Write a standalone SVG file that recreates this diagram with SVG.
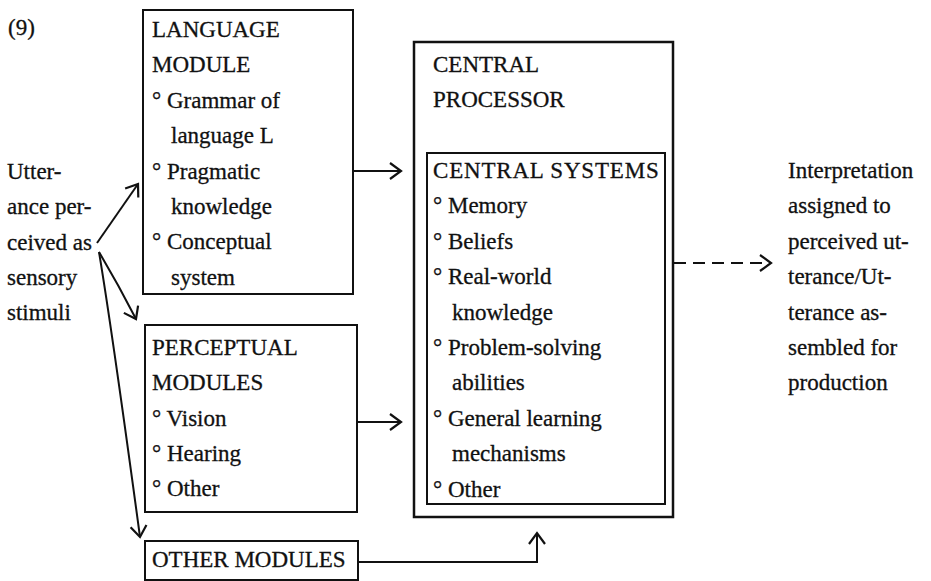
<svg xmlns="http://www.w3.org/2000/svg" width="931" height="581" viewBox="0 0 931 581">
<style>
  text { font-family: "Liberation Serif", "Times New Roman", serif; font-size: 23px; fill: #111; stroke: #111; stroke-width: 0.3; }
  .box { fill: none; stroke: #111; stroke-width: 2; }
  .box2 { fill: none; stroke: #111; stroke-width: 2.5; }
  .conn { fill: none; stroke: #111; stroke-width: 2; }
  .dash { stroke-dasharray: 12 7; }
  .wide { letter-spacing: 0.8px; }
</style>
<defs>
  <marker id="chev" markerUnits="userSpaceOnUse" markerWidth="20" markerHeight="20" viewBox="-14 -10 16 20" refX="0" refY="0" orient="auto">
    <path d="M-11,-8 L0,0 L-11,8" fill="none" stroke="#111" stroke-width="2.2" stroke-linejoin="miter"/>
  </marker>
</defs>
<rect width="931" height="581" fill="#fff"/>

<text x="8" y="35">(9)</text>

<g id="input-label">
  <text x="7" y="179">Utter-</text>
  <text x="7" y="214">ance per-</text>
  <text x="7" y="250">ceived as</text>
  <text x="7" y="285">sensory</text>
  <text x="7" y="320">stimuli</text>
</g>

<g id="language-module">
  <rect class="box" x="143" y="10" width="210" height="284"/>
  <text x="152" y="37">LANGUAGE</text>
  <text x="152" y="72">MODULE</text>
  <text x="152" y="108">° Grammar of</text>
  <text x="171" y="143">language L</text>
  <text x="152" y="179">° Pragmatic</text>
  <text x="171" y="214">knowledge</text>
  <text x="152" y="249">° Conceptual</text>
  <text x="171" y="285">system</text>
</g>

<g id="perceptual-modules">
  <rect class="box" x="145" y="325" width="212" height="187"/>
  <text x="152" y="355">PERCEPTUAL</text>
  <text x="152" y="390">MODULES</text>
  <text x="152" y="426">° Vision</text>
  <text x="152" y="461">° Hearing</text>
  <text x="152" y="496">° Other</text>
</g>

<g id="other-modules">
  <rect class="box" x="145" y="541" width="213" height="39"/>
  <text x="152" y="567">OTHER MODULES</text>
</g>

<g id="central-processor">
  <rect class="box2" x="414" y="42" width="259" height="475"/>
  <text x="433" y="72">CENTRAL</text>
  <text x="433" y="107">PROCESSOR</text>
</g>

<g id="central-systems">
  <rect class="box" x="427" y="153" width="238" height="351"/>
  <text class="wide" x="433" y="178">CENTRAL SYSTEMS</text>
  <text x="433" y="213">° Memory</text>
  <text x="433" y="249">° Beliefs</text>
  <text x="433" y="284">° Real-world</text>
  <text x="452" y="320">knowledge</text>
  <text x="433" y="355">° Problem-solving</text>
  <text x="452" y="390">abilities</text>
  <text x="433" y="426">° General learning</text>
  <text x="452" y="461">mechanisms</text>
  <text x="433" y="497">° Other</text>
</g>

<g id="output-label">
  <text x="788" y="178">Interpretation</text>
  <text x="788" y="213">assigned to</text>
  <text x="788" y="249">perceived ut-</text>
  <text x="788" y="284">terance/Ut-</text>
  <text x="788" y="320">terance as-</text>
  <text x="788" y="355">sembled for</text>
  <text x="788" y="390">production</text>
</g>

<g id="connectors">
  <path class="conn" d="M97,243 L138,184" marker-end="url(#chev)"/>
  <path class="conn" d="M99,252 Q118,284 136,319" marker-end="url(#chev)"/>
  <path class="conn" d="M99,252 Q112,330 140,537" marker-end="url(#chev)"/>
  <path class="conn" d="M353,171 L401,171" marker-end="url(#chev)"/>
  <path class="conn" d="M357,422 L401,422" marker-end="url(#chev)"/>
  <path class="conn" d="M358,562 L537,562 L537,533" marker-end="url(#chev)"/>
  <path class="conn dash" d="M674,263 L771,263" marker-end="url(#chev)"/>
</g>
</svg>
